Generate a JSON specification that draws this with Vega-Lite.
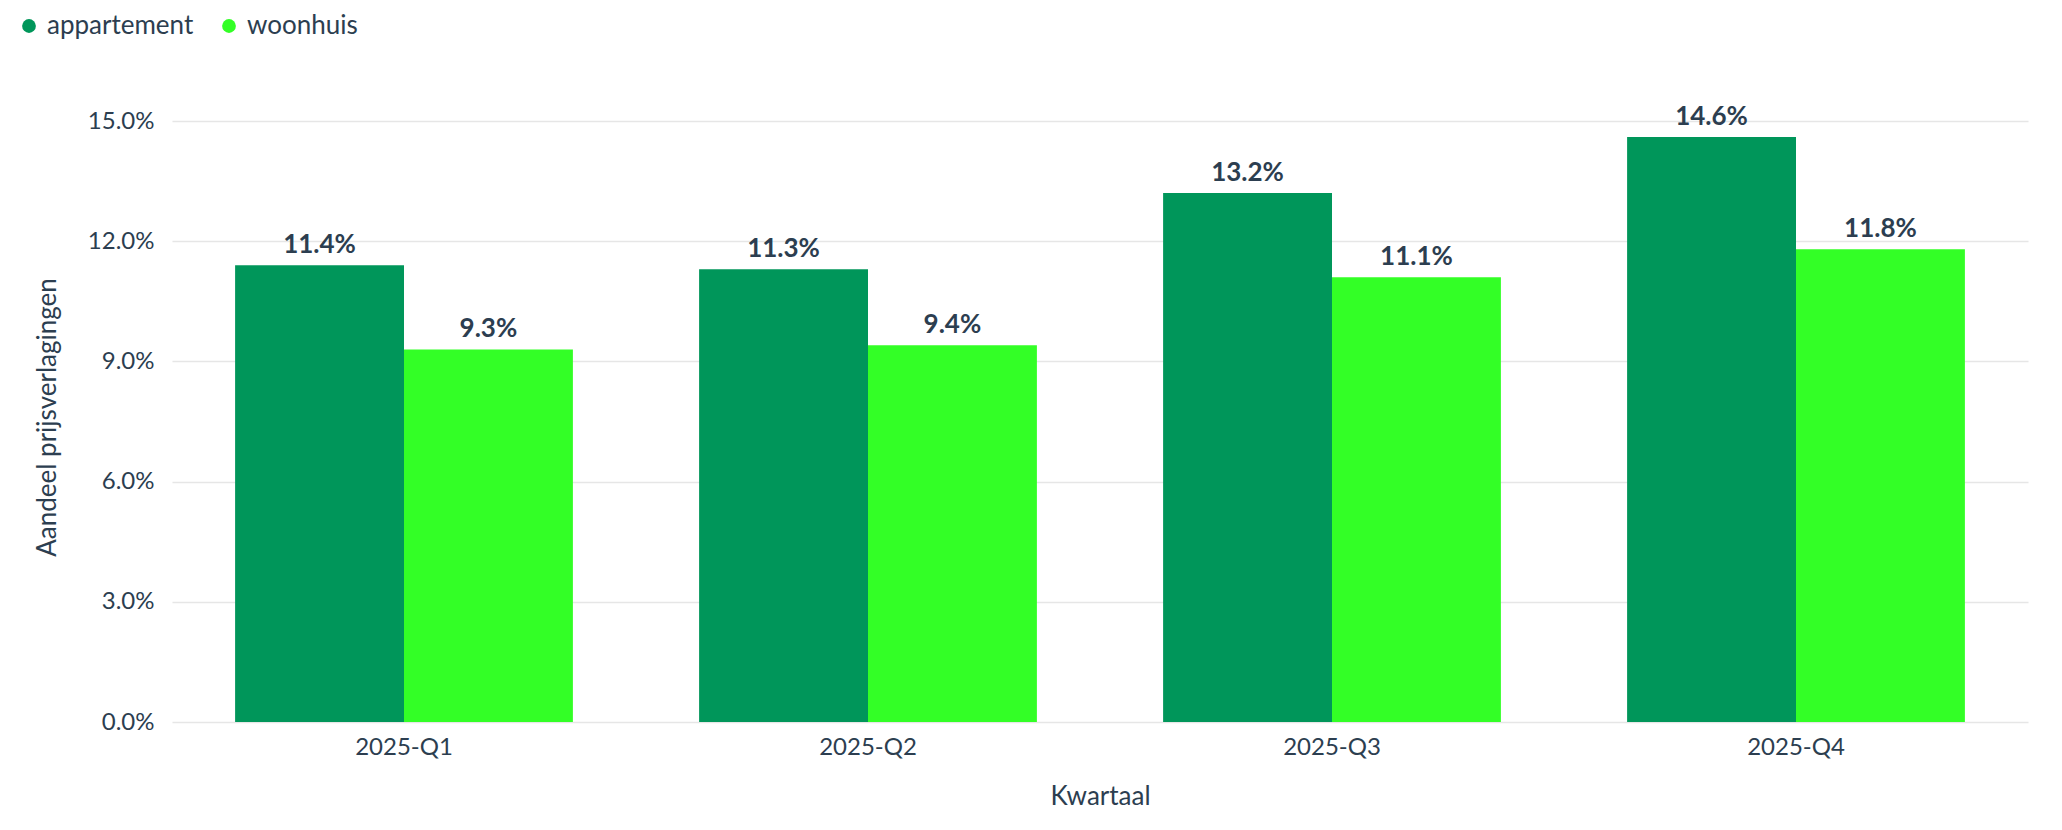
{
  "$schema": "https://vega.github.io/schema/vega-lite/v6.json",
  "description": "Aandeel prijsverlagingen per kwartaal, appartement en woonhuis",
  "autosize": {"type": "none"},
  "padding": {"left": 172, "top": 121, "right": 34, "bottom": 108},
  "width": 1856,
  "height": 601,
  "background": "white",
  "data": {
    "values": [
      {"kwartaal": "2025-Q1", "type": "appartement", "aandeel": 0.114},
      {"kwartaal": "2025-Q1", "type": "woonhuis", "aandeel": 0.093},
      {"kwartaal": "2025-Q2", "type": "appartement", "aandeel": 0.113},
      {"kwartaal": "2025-Q2", "type": "woonhuis", "aandeel": 0.094},
      {"kwartaal": "2025-Q3", "type": "appartement", "aandeel": 0.132},
      {"kwartaal": "2025-Q3", "type": "woonhuis", "aandeel": 0.111},
      {"kwartaal": "2025-Q4", "type": "appartement", "aandeel": 0.146},
      {"kwartaal": "2025-Q4", "type": "woonhuis", "aandeel": 0.118}
    ]
  },
  "encoding": {
    "x": {
      "field": "kwartaal",
      "type": "nominal",
      "title": "Kwartaal",
      "scale": {"paddingInner": 0.272, "paddingOuter": 0.136},
      "axis": {
        "labelAngle": 0,
        "ticks": false,
        "domain": false,
        "labelPadding": 13,
        "titleY": 61,
        "titleBaseline": "top"
      }
    },
    "xOffset": {
      "field": "type",
      "type": "nominal",
      "scale": {"paddingInner": 0, "paddingOuter": 0}
    },
    "y": {
      "field": "aandeel",
      "type": "quantitative",
      "title": "Aandeel prijsverlagingen",
      "scale": {"domain": [0, 0.15], "nice": false},
      "axis": {
        "format": ".1%",
        "values": [0, 0.03, 0.06, 0.09, 0.12, 0.15],
        "ticks": false,
        "domain": false,
        "labelPadding": 18,
        "titleX": -125,
        "titleY": 296,
        "titleBaseline": "middle"
      }
    }
  },
  "layer": [
    {
      "mark": {"type": "bar"},
      "encoding": {
        "color": {
          "field": "type",
          "type": "nominal",
          "scale": {"domain": ["appartement", "woonhuis"], "range": ["#00965a", "#33ff26"]},
          "legend": {
            "title": null,
            "orient": "none",
            "direction": "horizontal",
            "legendX": -156,
            "legendY": -108,
            "symbolType": "circle",
            "symbolSize": 190,
            "symbolStrokeWidth": 0,
            "labelOffset": 5,
            "columnPadding": 22,
            "padding": 0
          }
        }
      }
    },
    {
      "mark": {
        "type": "text",
        "baseline": "alphabetic",
        "dy": -12,
        "font": "Lato",
        "fontWeight": "bold",
        "fontSize": 26,
        "color": "#2c3e50"
      },
      "encoding": {
        "text": {"field": "aandeel", "type": "quantitative", "format": ".1%"}
      }
    }
  ],
  "config": {
    "view": {"stroke": null},
    "font": "Lato",
    "axis": {
      "labelFont": "Lato",
      "titleFont": "Lato",
      "labelFontSize": 24,
      "titleFontSize": 26,
      "titleFontWeight": "normal",
      "labelColor": "#2c3e50",
      "titleColor": "#2c3e50",
      "gridColor": "#e6e6e6",
      "gridWidth": 1.5
    },
    "axisX": {"grid": false},
    "legend": {
      "labelFont": "Lato",
      "labelFontSize": 26,
      "labelColor": "#2c3e50"
    }
  }
}
